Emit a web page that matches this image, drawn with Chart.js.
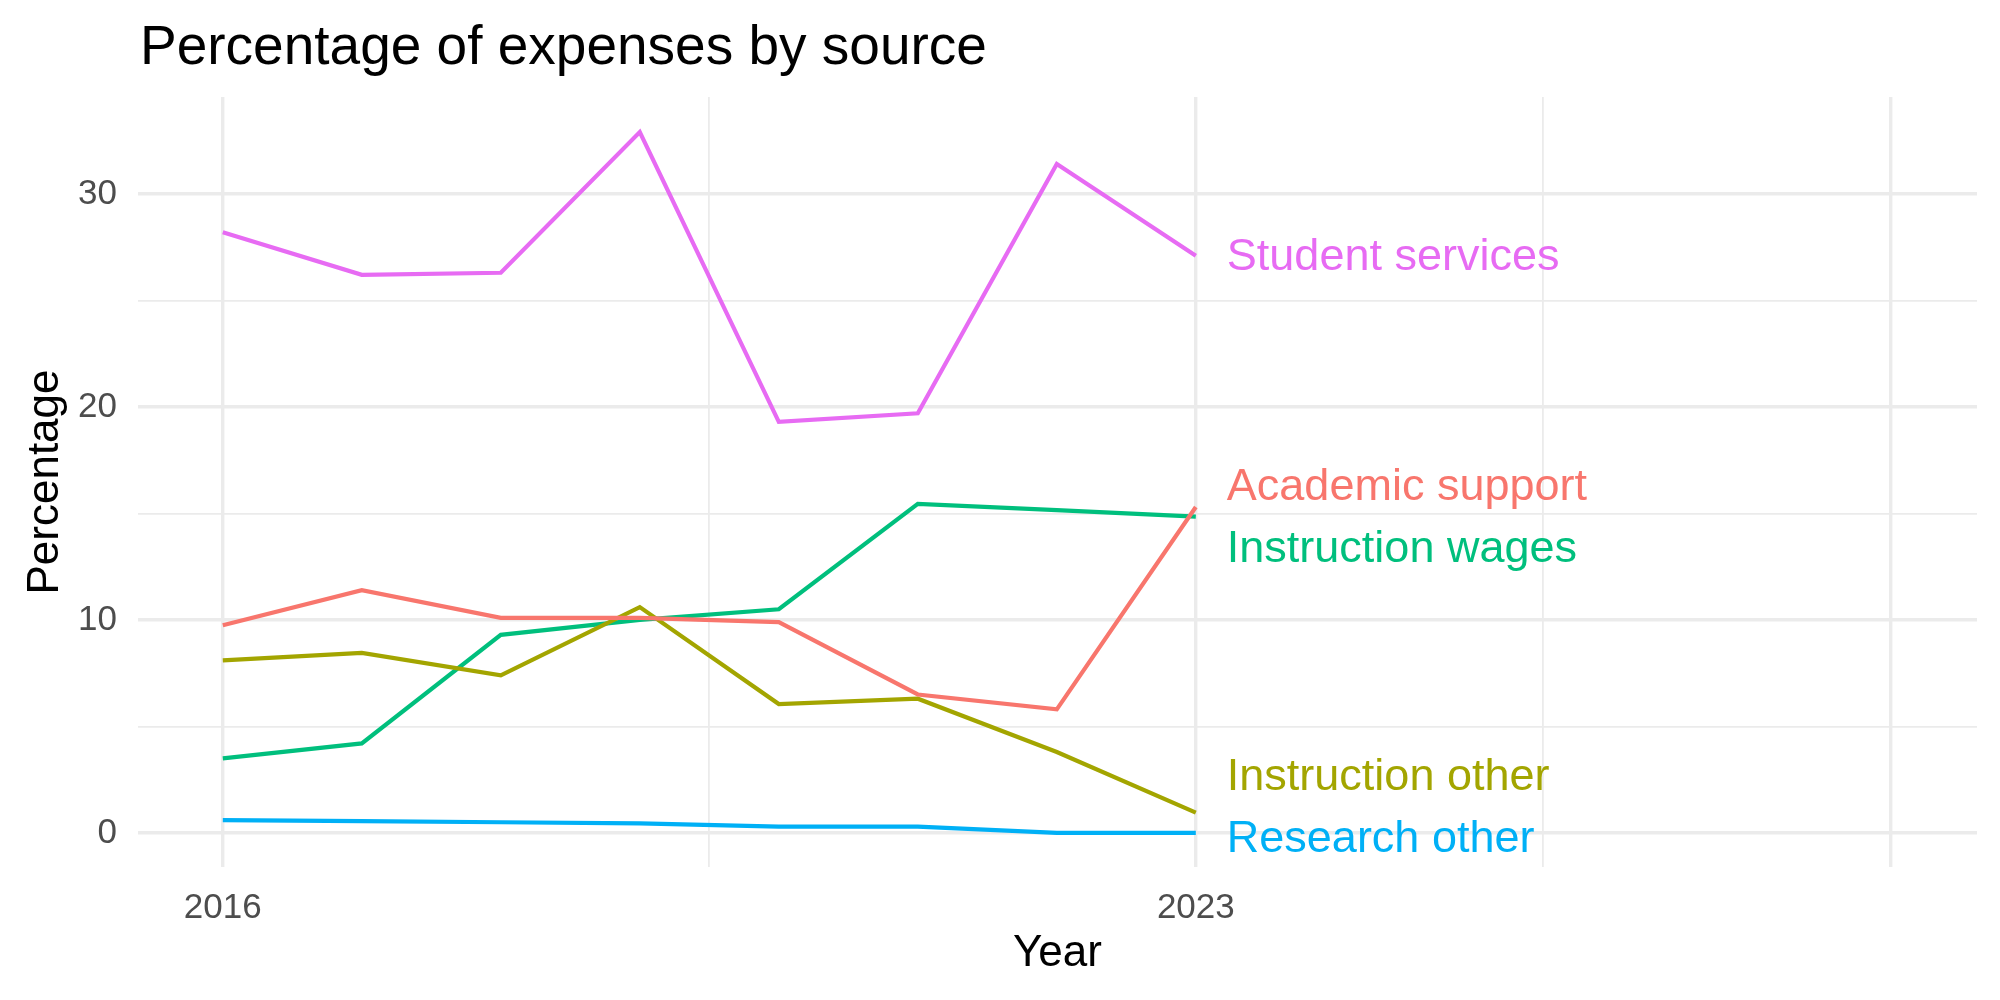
<!DOCTYPE html>
<html>
<head>
<meta charset="utf-8">
<script src="https://cdn.jsdelivr.net/npm/chart.js@4.4.1/dist/chart.umd.min.js"></script>
<style>
  html, body { margin: 0; padding: 0; background: #fff; }
  #wrap { width: 2000px; height: 1000px; }
</style>
</head>
<body>
<div id="wrap"><canvas id="chart" width="2000" height="1000"></canvas></div>
<script>
// data
const years = [2016, 2017, 2018, 2019, 2020, 2021, 2022, 2023];
const sources = ["Academic support", "Instruction other", "Instruction wages", "Research other", "Student services"];
const academicSupport = [9.75, 11.4, 10.1, 10.1, 9.9, 6.5, 5.8, 15.3];
const instructionOther = [8.1, 8.45, 7.4, 10.6, 6.05, 6.3, 3.8, 0.95];
const instructionWages = [3.5, 4.2, 9.3, 10.0, 10.5, 15.45, 15.15, 14.85];
const researchOther = [0.6, 0.55, 0.5, 0.45, 0.3, 0.3, 0.0, 0.0];
const studentServices = [28.2, 26.2, 26.3, 32.9, 19.3, 19.7, 31.4, 27.1];
const xBreaks = [2016, 2019.5, 2023, 2025.5, 2028];
const xLabels = [2016, 2023];
const yBreaks = [0, 5, 10, 15, 20, 25, 30];

const colors = ["#F8766D", "#A3A500", "#00BF7D", "#00B0F6", "#E76BF3"];
const series = [academicSupport, instructionOther, instructionWages, researchOther, studentServices];
const FONT = "'Liberation Sans', Arial, Helvetica, sans-serif";

const datasets = series.map((vals, i) => ({
  label: sources[i],
  data: vals.map((v, j) => ({ x: years[j], y: v })),
  borderColor: colors[i],
  backgroundColor: colors[i],
  borderWidth: 4.2,
  pointRadius: 0,
  tension: 0,
  fill: false
}));

const textPlugin = {
  id: "texts",
  afterDraw(chart) {
    const { ctx, chartArea, scales } = chart;
    const xs = scales.x, ys = scales.y;
    ctx.save();
    // title
    ctx.fillStyle = "#000";
    ctx.font = "55px " + FONT;
    ctx.textAlign = "left";
    ctx.textBaseline = "alphabetic";
    ctx.fillText("Percentage of expenses by source", 140, 64);
    // axis titles
    ctx.font = "44px " + FONT;
    ctx.textAlign = "center";
    ctx.fillText("Year", (chartArea.left + chartArea.right) / 2, 966);
    ctx.save();
    ctx.translate(58, (chartArea.top + chartArea.bottom) / 2);
    ctx.rotate(-Math.PI / 2);
    ctx.fillText("Percentage", 0, 0);
    ctx.restore();

    // end labels, pushed apart so they do not overlap
    const last = years.length - 1;
    const items = series.map((vals, i) => ({ i, y: ys.getPixelForValue(vals[last]) }));
    items.sort((a, b) => a.y - b.y);
    const gap = 62, maxY = chartArea.bottom - 29;
    for (let it = 0; it < 200; it++) {
      for (let k = 0; k < items.length - 1; k++) {
        const d = items[k + 1].y - items[k].y;
        if (d < gap) {
          const m = (gap - d) / 2;
          items[k].y -= m * 0.8;
          items[k + 1].y += m * 1.2;
        }
      }
      items.forEach(o => { if (o.y > maxY) o.y = maxY; });
    }
    ctx.font = "45px " + FONT;
    ctx.textAlign = "left";
    ctx.textBaseline = "middle";
    const lx = xs.getPixelForValue(years[last]) + 31;
    items.forEach(o => {
      ctx.fillStyle = colors[o.i];
      ctx.fillText(sources[o.i], lx, o.y + 2);
    });
    ctx.restore();
  }
};

new Chart(document.getElementById("chart"), {
  type: "line",
  data: { datasets },
  options: {
    responsive: false,
    animation: false,
    devicePixelRatio: 1,
    layout: { padding: { top: 97, right: 23, left: 0, bottom: 0 } },
    plugins: { legend: { display: false }, tooltip: { enabled: false }, title: { display: false } },
    scales: {
      x: {
        type: "linear",
        min: 2015.39,
        max: 2028.62,
        afterFit(s) { s.height = 133; },
        afterBuildTicks(s) { s.ticks = xBreaks.map(v => ({ value: v })); },
        border: { display: false },
        grid: {
          drawTicks: false,
          color: "#EBEBEB",
          lineWidth: c => (c.tick && (c.tick.value === 2019.5 || c.tick.value === 2025.5)) ? 1.8 : 3.4
        },
        ticks: {
          padding: 20,
          autoSkip: false,
          maxRotation: 0,
          color: "#4D4D4D",
          font: { family: FONT, size: 35 },
          callback: v => xLabels.includes(v) ? String(v) : ""
        }
      },
      y: {
        type: "linear",
        min: -1.6,
        max: 34.55,
        afterFit(s) { s.width = 138; },
        afterBuildTicks(s) { s.ticks = yBreaks.map(v => ({ value: v })); },
        border: { display: false },
        grid: {
          drawTicks: false,
          color: "#EBEBEB",
          lineWidth: c => (c.tick && c.tick.value % 10 !== 0) ? 1.8 : 3.4
        },
        ticks: {
          padding: 21,
          color: "#4D4D4D",
          font: { family: FONT, size: 35 },
          callback: v => v % 10 === 0 ? String(v) : ""
        }
      }
    }
  },
  plugins: [textPlugin]
});
</script>
</body>
</html>
